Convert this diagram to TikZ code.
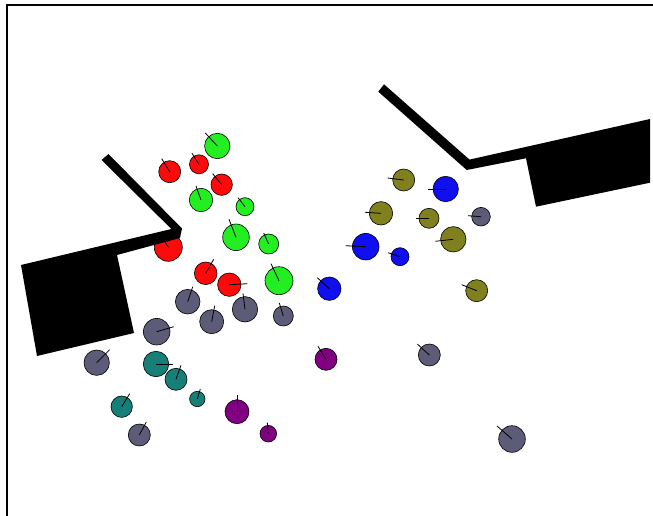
\documentclass[tikz,border=0pt]{standalone}
\definecolor{agred}{HTML}{FF0A0A}
\definecolor{aggreen}{HTML}{22EE22}
\definecolor{agblue}{HTML}{0F0FF0}
\definecolor{aggray}{HTML}{5C5C78}
\definecolor{agteal}{HTML}{168078}
\definecolor{agolive}{HTML}{80801E}
\definecolor{agpurple}{HTML}{800080}
\newcommand{\agentdot}[6]{%
  \path[fill=#1, draw=black, line width=0.6pt] (#2,#3) circle (#4);
  \draw[line width=0.8pt] (#2,#3) -- ++(#5,#6);}
\tikzset{wall/.style={fill=black}, frameline/.style={line width=2pt}}
\begin{document}
\begin{tikzpicture}[x=1pt,y=-1pt]
\useasboundingbox (0,0) rectangle (653,516);
\fill[white] (0,0) rectangle (653,516);
% green
\agentdot{aggreen}{217.3}{146}{12.7}{-12}{-13}
\agentdot{aggreen}{201}{200}{11.7}{-5}{-14}
\agentdot{aggreen}{245}{206.7}{9}{-7}{-9}
\agentdot{aggreen}{236}{237.3}{13.3}{-7}{-18}
\agentdot{aggreen}{268.7}{244}{10}{-5}{-11}
\agentdot{aggreen}{279}{280.7}{14}{-8}{-17}
% red
\agentdot{agred}{169.7}{171.7}{11}{-8}{-13}
\agentdot{agred}{199}{164.3}{9.5}{-7}{-11}
\agentdot{agred}{221.7}{184.7}{10.7}{-9}{-11}
\agentdot{agred}{168.3}{247.3}{14}{-6}{-10}
\agentdot{agred}{205.7}{273.3}{11.3}{8}{-14}
\agentdot{agred}{229.3}{284.7}{11.7}{18}{-1}
% gray
\agentdot{aggray}{187.7}{301.7}{12.3}{5}{-15}
\agentdot{aggray}{245}{309.3}{12.7}{-2}{-16}
\agentdot{aggray}{211.7}{321.7}{12}{3}{-16}
\agentdot{aggray}{283.3}{316}{10}{-4}{-13}
\agentdot{aggray}{156.7}{331.7}{13.3}{17}{-5}
\agentdot{aggray}{96.7}{362.7}{12.7}{13}{-13}
\agentdot{aggray}{139.3}{435}{11}{7}{-13}
\agentdot{aggray}{481}{216.7}{9.3}{-13}{-1}
\agentdot{aggray}{429.3}{355}{11}{-12}{-11}
\agentdot{aggray}{512}{439}{13.3}{-15}{-13}
% teal
\agentdot{agteal}{156}{364}{12.7}{17}{0}
\agentdot{agteal}{176}{379.3}{11}{5}{-14}
\agentdot{agteal}{121.7}{406.7}{10.7}{8}{-13}
\agentdot{agteal}{197.3}{399}{7.7}{3}{-10}
% purple
\agentdot{agpurple}{326}{359.3}{11}{-8}{-13}
\agentdot{agpurple}{237}{411.7}{12}{0}{-17}
\agentdot{agpurple}{268.3}{433.7}{8.3}{-1}{-11}
% blue
\agentdot{agblue}{329.3}{288.7}{11.7}{-12}{-11}
\agentdot{agblue}{445.7}{189}{12.7}{-18}{0}
\agentdot{agblue}{365.7}{246.7}{13.3}{-20}{-1}
\agentdot{agblue}{400}{256.7}{9}{-12}{-4}
% olive
\agentdot{agolive}{403.7}{180}{11}{-16}{-2}
\agentdot{agolive}{381}{213.3}{11.7}{-16}{-1}
\agentdot{agolive}{429}{218.3}{10}{-13}{0}
\agentdot{agolive}{453.3}{239.3}{12.7}{-18}{2}
\agentdot{agolive}{476.7}{290.7}{11}{-15}{-6}
% walls
\fill[wall] (21,265) -- (171.4,229) -- (101.5,160) -- (108.5,154) -- (182,228.5)
  -- (180,238) -- (117,255) -- (134,333) -- (37,356) -- cycle;
\fill[wall] (378.3,91.7) -- (384,84.3) -- (469.5,159.6) -- (650,119) -- (650,182.7)
  -- (536,206.7) -- (526,158.3) -- (466.7,170) -- cycle;
% frame
\draw[frameline] (7,516) -- (7,5) -- (653,5);
\end{tikzpicture}
\end{document}
